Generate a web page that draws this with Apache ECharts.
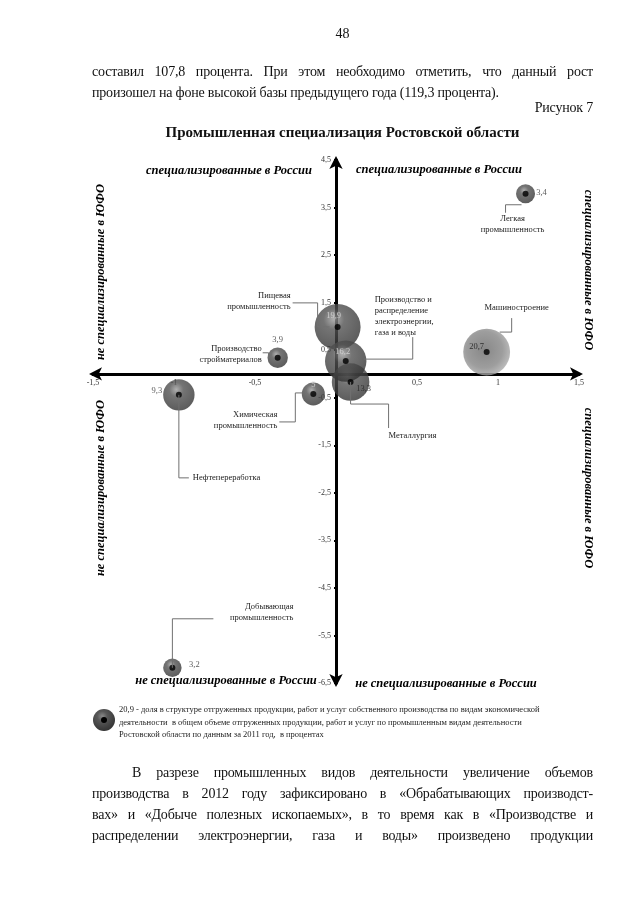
<!DOCTYPE html>
<html>
<head>
<meta charset="utf-8">
<script src="https://cdn.jsdelivr.net/npm/echarts@6/dist/echarts.min.js"></script>
<style>
  body { margin: 0; background: #fff; }
  #page { position: relative; width: 640px; height: 905px; font-family: "Liberation Serif", "Times New Roman", serif; color: #111; }
  #chart { position: absolute; left: 0; top: 0; width: 640px; height: 905px; }
  .ln { position: absolute; left: 92px; width: 501px; font-size: 14px; letter-spacing: -0.2px; line-height: 21px; }
  .j { text-align: justify; text-align-last: justify; }
</style>
</head>
<body>
<div id="page">
  <div id="chart"></div>
  <div class="ln" style="top:23px;text-align:center;letter-spacing:0;">48</div>
  <div class="ln j" style="top:61px;">составил 107,8 процента. При этом необходимо отметить, что данный рост</div>
  <div class="ln" style="top:82px;">произошел на фоне высокой базы предыдущего года (119,3 процента).</div>
  <div class="ln" style="top:97px;text-align:right;">Рисунок 7</div>
  <div class="ln" style="top:122px;text-align:center;font-weight:bold;font-size:15px;letter-spacing:0;">Промышленная специализация Ростовской области</div>
  <div class="ln j" style="top:762px;text-indent:40px;">В разрезе промышленных видов деятельности увеличение объемов</div>
  <div class="ln j" style="top:783px;">производства в 2012 году зафиксировано в «Обрабатывающих производст-</div>
  <div class="ln j" style="top:804px;">вах» и «Добыче полезных ископаемых», в то время как в «Производстве и</div>
  <div class="ln j" style="top:825px;">распределении электроэнергии, газа и воды» произведено продукции</div>
</div>
<script>
let myChart = echarts.init(document.getElementById("chart"));

// данные
let categories = [
  "Машиностроение",
  "Пищевая\nпромышленность",
  "Металлургия",
  "Производство и\nраспределение\nэлектроэнергии,\nгаза и воды",
  "Нефтепереработка",
  "Химическая\nпромышленность",
  "Производство\nстройматериалов",
  "Легкая\nпромышленность",
  "Добывающая\nпромышленность",
];
let xValues = [0.93, 0.01, 0.09, 0.06, -0.97, -0.14, -0.36, 1.17, -1.01];
let yValues = [0.46, 0.99, -0.17, 0.27, -0.44, -0.42, 0.34, 3.79, -6.18];
let shares = [20.7, 19.9, 13.3, 16.2, 9.3, 5.0, 3.9, 3.4, 3.2];
let xTicks = [-1.5, -1, -0.5, 0.5, 1, 1.5];
let yTicks = [-6.5, -5.5, -4.5, -3.5, -2.5, -1.5, -0.5, 0.5, 1.5, 2.5, 3.5, 4.5];

// раскладка подписей (пиксели от центра пузыря)
let labelOffsets = [[-10, -5], [-4, -11], [13, 7], [-3, -9], [-22, -4], [0, -9], [0, -18], [16, -1], [22, -3]];
let labelColors = ["#111", "#ddd", "#222", "#ddd", "#333", "#e6e6e6", "#333", "#333", "#333"];
let notes = [
  { line: [[25, -34], [25, -20], [13, -20]], dx: 30, dy: -50, align: "center" },
  { line: [[-45, -24], [-20, -24], [-20, 0], [-8, 0]], dx: -47, dy: -37, align: "right" },
  { line: [[0, 0], [0, 22], [38, 22], [38, 46]], dx: 38, dy: 48, align: "left" },
  { line: [[18, -2], [67, -2], [67, -24]], dx: 29, dy: -67, align: "left" },
  { line: [[0, 0], [0, 83], [10, 83]], dx: 14, dy: 77, align: "left" },
  { line: [[-34, 28], [-18, 28], [-18, -1], [-9, -1]], dx: -36, dy: 15, align: "right" },
  { line: [[-15, -5], [-9, -5], [-9, 0], [-7, 0]], dx: -16, dy: -15, align: "right" },
  { line: [[-4, 11], [-20, 11], [-20, 19]], dx: -13, dy: 20, align: "center" },
  { line: [[0, 0], [0, -49], [41, -49]], dx: 121, dy: -67, align: "right" },
];

function comma(v) {
  return String(v).replace(".", ",");
}
function bubbleFill(light, dark) {
  return {
    type: "radial", x: 0.42, y: 0.33, r: 0.75,
    colorStops: [
      { offset: 0, color: light },
      { offset: 0.3, color: dark },
      { offset: 1, color: "#2e2e2e" },
    ],
  };
}

let bubbleData = [];
let dotData = [];
for (let i = 0; i < categories.length; i++) {
  let fill = i === 0
    ? { type: "radial", x: 0.45, y: 0.45, r: 0.6, colorStops: [{ offset: 0, color: "#6a6a6a" }, { offset: 0.65, color: "#858585" }, { offset: 1, color: "#b0b0b0" }] }
    : bubbleFill("#9c9c9c", "#525252");
  bubbleData.push({
    value: [xValues[i], yValues[i], shares[i]],
    name: categories[i],
    itemStyle: { color: fill },
    label: { offset: labelOffsets[i], color: labelColors[i] },
  });
  dotData.push([xValues[i], yValues[i]]);
}

let axisFont = { fontFamily: "Liberation Serif", fontSize: 8, color: "#333" };
let gridBox = { left: 93, right: 61, top: 160, bottom: 222 };

let option = {
  animation: false,
  grid: Object.assign({ containLabel: false, outerBoundsMode: "none" }, gridBox),
  xAxis: {
    type: "value", min: -1.5, max: 1.5, interval: 0.5, position: "bottom",
    splitLine: { show: false },
    axisLine: { onZero: false, symbol: ["arrow", "arrow"], symbolSize: [10, 13], symbolOffset: [-4, 4], lineStyle: { color: "#000", width: 3 } },
    axisTick: { show: true, customValues: xTicks, length: 2, lineStyle: { color: "#000", width: 2 } },
    axisLabel: Object.assign({ customValues: xTicks, margin: 5, formatter: comma }, axisFont),
  },
  yAxis: {
    type: "value", min: -6.5, max: 4.5, position: "left",
    splitLine: { show: false },
    axisLine: { onZero: false, symbol: ["arrow", "arrow"], symbolSize: [10, 13], symbolOffset: [-4, 4], lineStyle: { color: "#000", width: 3 } },
    axisTick: { show: true, customValues: yTicks, length: 2, lineStyle: { color: "#000", width: 2 } },
    axisLabel: Object.assign({ customValues: yTicks, margin: 5, formatter: comma }, axisFont),
  },
  series: [
    {
      type: "scatter",
      clip: false,
      data: bubbleData,
      symbolSize: function (v) { return 10.3 * Math.sqrt(v[2]); },
      label: {
        show: true, position: "inside",
        fontFamily: "Liberation Serif", fontSize: 8.5,
        formatter: function (p) { return comma(p.value[2]); },
      },
      z: 3,
    },
    {
      type: "scatter",
      clip: false,
      silent: true,
      data: dotData,
      symbolSize: 6,
      itemStyle: { color: "#000" },
      z: 4,
    },
  ],
};
myChart.setOption(option);

// оси проходят через ноль: сдвигаем их внутрь сетки
let zero = myChart.convertToPixel({ gridIndex: 0 }, [0, 0]);
myChart.setOption({
  xAxis: { offset: -((905 - gridBox.bottom) - zero[1]) },
  yAxis: { offset: -(zero[0] - gridBox.left) },
});

// выноски и надписи квадрантов
let quad = { fontFamily: "Liberation Serif", fontSize: 12.5, fontWeight: "bold", fontStyle: "italic", fill: "#000", textAlign: "center", textVerticalAlign: "middle" };
function quadText(x, y, rot, text) {
  return { type: "text", x: x, y: y, rotation: rot, style: Object.assign({ text: text }, quad) };
}
let graphics = [
  quadText(229, 171, 0, "специализированные в России"),
  quadText(439, 170, 0, "специализированные в России"),
  quadText(226, 681, 0, "не специализированные в России"),
  quadText(446, 684, 0, "не специализированные в России"),
  quadText(101, 272, Math.PI / 2, "не специализированные в ЮФО"),
  quadText(101, 488, Math.PI / 2, "не специализированные в ЮФО"),
  quadText(588, 270, -Math.PI / 2, "специализированные в ЮФО"),
  quadText(588, 488, -Math.PI / 2, "специализированные в ЮФО"),
  // легенда
  { type: "circle", shape: { cx: 104, cy: 720, r: 11 }, style: { fill: bubbleFill("#8a8a8a", "#585858") } },
  { type: "circle", shape: { cx: 104, cy: 720, r: 3 }, style: { fill: "#000" } },
  {
    type: "text", x: 119, y: 704,
    style: {
      text: "20,9 - доля в структуре отгруженных продукции, работ и услуг собственного производства по видам экономической\nдеятельности  в общем объеме отгруженных продукции, работ и услуг по промышленным видам деятельности\nРостовской области по данным за 2011 год,  в процентах",
      fontFamily: "Liberation Serif", fontSize: 8.5, lineHeight: 12.5, fill: "#222",
    },
  },
];
for (let i = 0; i < categories.length; i++) {
  let c = myChart.convertToPixel({ seriesIndex: 0 }, [xValues[i], yValues[i]]);
  let n = notes[i];
  graphics.push({
    type: "polyline", z: 10,
    shape: { points: n.line.map(function (p) { return [c[0] + p[0], c[1] + p[1]]; }) },
    style: { stroke: "#707070", lineWidth: 1, fill: null },
  });
  graphics.push({
    type: "text", z: 10, x: c[0] + n.dx, y: c[1] + n.dy,
    style: { text: categories[i], textAlign: n.align, textVerticalAlign: "top", fontFamily: "Liberation Serif", fontSize: 8.5, lineHeight: 11, fill: "#222" },
  });
}
myChart.setOption({ graphic: graphics });
</script>
</body>
</html>
